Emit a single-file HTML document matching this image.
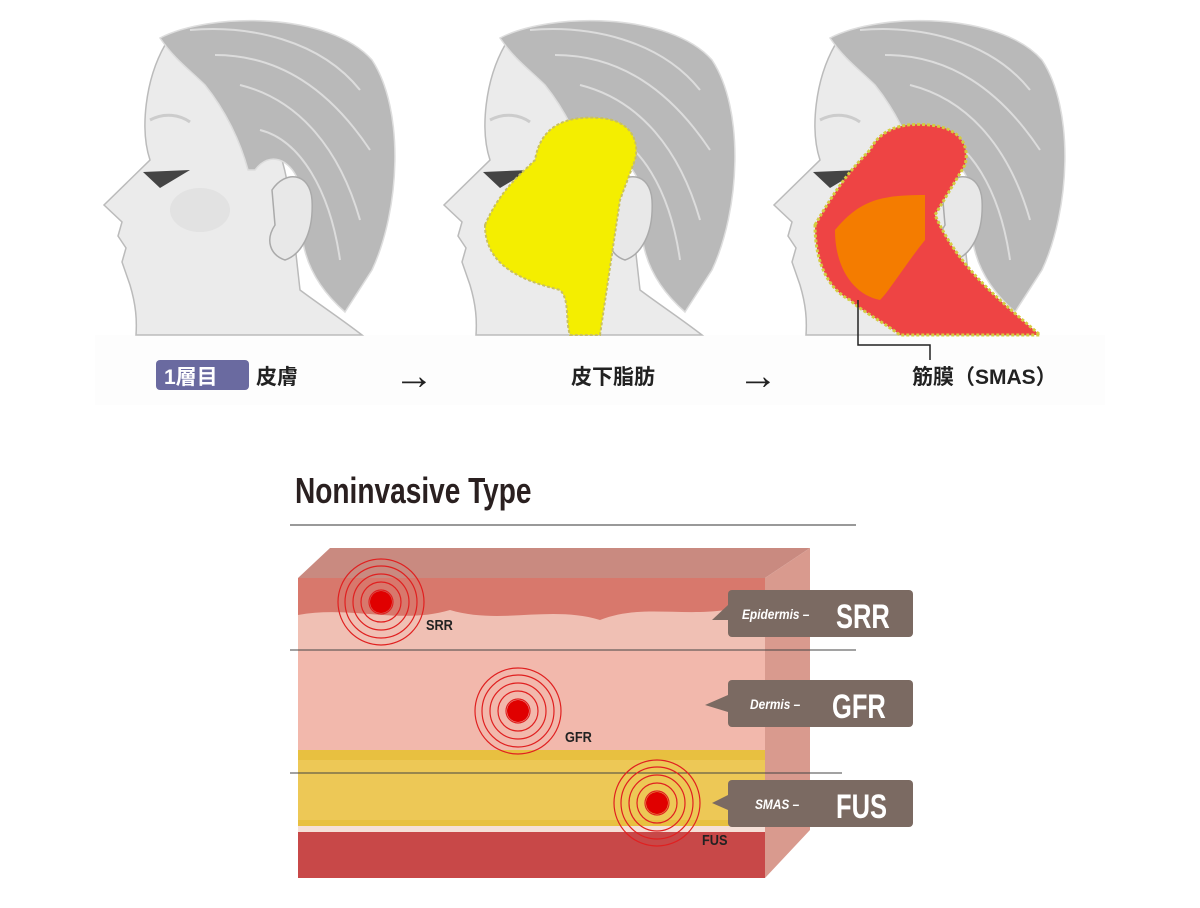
<!DOCTYPE html><html><head><meta charset="utf-8"><style>body{margin:0;background:#fff}svg{display:block}</style></head><body>
<svg width="1200" height="908" viewBox="0 0 1200 908" xmlns="http://www.w3.org/2000/svg" font-family="Liberation Sans, Noto Sans CJK JP, sans-serif">
<defs>
<g id="head">
<path d="M165,45 C145,80 140,130 150,160 L104,205 L122,222 L118,236 L126,248 L122,262 L130,285 C136,305 137,320 136,335 L362,335 C340,318 320,305 300,290 L290,200 C280,120 240,60 165,45 Z" fill="#ebebeb" stroke="#bbb" stroke-width="1.5"/>
<path d="M160,38 C210,12 330,12 372,60 C405,110 400,210 372,270 L345,312 C320,290 305,265 302,235 L298,180 C290,160 270,150 255,170 L248,170 C240,140 225,110 205,85 C190,70 175,60 160,38 Z" fill="#b9b9b9" stroke="#ddd" stroke-width="1.5"/>
<path d="M190,30 C250,25 320,40 360,90 M215,55 C280,55 330,90 370,150 M240,85 C300,100 340,150 360,220 M260,130 C300,140 330,190 340,260" stroke="#dcdcdc" stroke-width="2" fill="none"/>
<path d="M272,190 C285,170 310,172 312,200 C314,235 300,255 285,260 C270,255 265,240 275,225 Z" fill="#e8e8e8" stroke="#aaa" stroke-width="1.5"/>
<path d="M150,120 C165,112 180,115 190,122" stroke="#ccc" stroke-width="3" fill="none"/>
<path d="M143,172 L190,170 L160,188 Z" fill="#444"/>
<ellipse cx="200" cy="210" rx="30" ry="22" fill="#dcdcdc" opacity="0.6"/>
</g>
</defs>
<rect x="95" y="335" width="1010" height="70" fill="#fdfdfd"/>
<use href="#head"/>
<use href="#head" x="340"/>
<use href="#head" x="670"/>
<path d="M485,225 C500,190 520,175 535,160 C540,130 560,115 600,118 C630,120 640,140 635,160 L620,200 L600,335 L570,335 C565,320 570,300 560,290 C520,280 485,265 485,225 Z" fill="#f4ee00" stroke="#c9c060" stroke-width="2" stroke-dasharray="3,2"/>
<path d="M815,225 C835,190 850,170 870,150 C880,130 900,122 930,125 C960,128 970,145 965,165 L935,215 C960,270 1000,300 1040,335 L900,335 C880,320 860,310 850,300 C830,290 815,265 815,225 Z" fill="#ee4444" stroke="#d4cc40" stroke-width="3" stroke-dasharray="3,2"/>
<path d="M835,230 C860,200 880,195 925,195 L925,240 C905,265 890,290 880,300 C855,295 835,270 835,230 Z" fill="#f47c00"/>
<path d="M858,300 L858,345 L930,345 L930,360" stroke="#222" stroke-width="1.5" fill="none"/>
<rect x="156" y="360" width="93" height="30" rx="4" fill="#6a6aa0"/>
<text x="164" y="384" font-size="21" font-weight="bold" fill="#fff">1層目</text>
<text x="256" y="384" font-size="21" font-weight="bold" fill="#222">皮膚</text>
<text x="394" y="389" font-size="40" font-weight="bold" fill="#222">→</text>
<text x="571" y="384" font-size="21" font-weight="bold" fill="#222">皮下脂肪</text>
<text x="738" y="389" font-size="40" font-weight="bold" fill="#222">→</text>
<text x="912" y="384" font-size="21" font-weight="bold" fill="#222">筋膜（SMAS）</text>
<text x="295" y="503" font-size="36" font-weight="bold" fill="#2a2020" transform="translate(295 0) scale(0.78 1) translate(-295 0)">Noninvasive Type</text>
<line x1="290" y1="525" x2="856" y2="525" stroke="#333" stroke-width="1"/>
<path d="M298,578 L330,548 L810,548 L765,578 Z" fill="#c98a80"/>
<path d="M765,578 L810,548 L810,830 L765,878 Z" fill="#d99a8e"/>
<rect x="298" y="578" width="467" height="72" fill="#f0c0b4"/>
<path d="M298,578 L765,578 L765,600 C700,625 650,600 600,620 C550,605 500,625 450,610 C400,625 350,605 298,615 Z" fill="#d8786c"/>
<rect x="298" y="650" width="467" height="110" fill="#f2b8ac"/>
<rect x="298" y="750" width="467" height="80" fill="#e8c040"/>
<rect x="298" y="760" width="467" height="60" fill="#f0cc60" opacity="0.7"/>
<rect x="298" y="830" width="467" height="48" fill="#c84848"/>
<rect x="298" y="826" width="467" height="6" fill="#f5e0d8"/>
<line x1="290" y1="650" x2="856" y2="650" stroke="#444" stroke-width="1"/>
<line x1="290" y1="773" x2="842" y2="773" stroke="#444" stroke-width="1"/>
<g fill="none" stroke="#e02020" stroke-width="1.2">
<circle cx="381" cy="602" r="12"/><circle cx="381" cy="602" r="20"/><circle cx="381" cy="602" r="28"/><circle cx="381" cy="602" r="36"/><circle cx="381" cy="602" r="43"/>
<circle cx="518" cy="711" r="12"/><circle cx="518" cy="711" r="20"/><circle cx="518" cy="711" r="28"/><circle cx="518" cy="711" r="36"/><circle cx="518" cy="711" r="43"/>
<circle cx="657" cy="803" r="12"/><circle cx="657" cy="803" r="20"/><circle cx="657" cy="803" r="28"/><circle cx="657" cy="803" r="36"/><circle cx="657" cy="803" r="43"/>
</g>
<circle cx="381" cy="602" r="11" fill="#e00000"/><circle cx="518" cy="711" r="11" fill="#e00000"/><circle cx="657" cy="803" r="11" fill="#e00000"/>
<text x="426" y="630" font-size="15" fill="#222" font-weight="bold" transform="translate(426 0) scale(0.85 1) translate(-426 0)">SRR</text>
<text x="565" y="742" font-size="15" fill="#222" font-weight="bold" transform="translate(565 0) scale(0.85 1) translate(-565 0)">GFR</text>
<text x="702" y="845" font-size="15" fill="#222" font-weight="bold" transform="translate(702 0) scale(0.85 1) translate(-702 0)">FUS</text>
<g fill="#7b6a62">
<rect x="728" y="590" width="185" height="47" rx="4"/><path d="M728,605 L712,620 L728,620 Z"/>
<rect x="728" y="680" width="185" height="47" rx="4"/><path d="M728,695 L705,705 L728,712 Z"/>
<rect x="728" y="780" width="185" height="47" rx="4"/><path d="M728,795 L712,803 L728,810 Z"/>
</g>
<g fill="#fff">
<text x="742" y="619" font-size="14" font-style="italic" font-weight="bold" transform="translate(742 0) scale(0.85 1) translate(-742 0)">Epidermis –</text>
<text x="836" y="628" font-size="34" font-weight="bold" transform="translate(836 0) scale(0.75 1) translate(-836 0)">SRR</text>
<text x="750" y="709" font-size="14" font-style="italic" font-weight="bold" transform="translate(750 0) scale(0.85 1) translate(-750 0)">Dermis –</text>
<text x="832" y="718" font-size="34" font-weight="bold" transform="translate(832 0) scale(0.75 1) translate(-832 0)">GFR</text>
<text x="755" y="809" font-size="14" font-style="italic" font-weight="bold" transform="translate(755 0) scale(0.85 1) translate(-755 0)">SMAS –</text>
<text x="836" y="818" font-size="34" font-weight="bold" transform="translate(836 0) scale(0.75 1) translate(-836 0)">FUS</text>
</g>
</svg>
</body></html>
